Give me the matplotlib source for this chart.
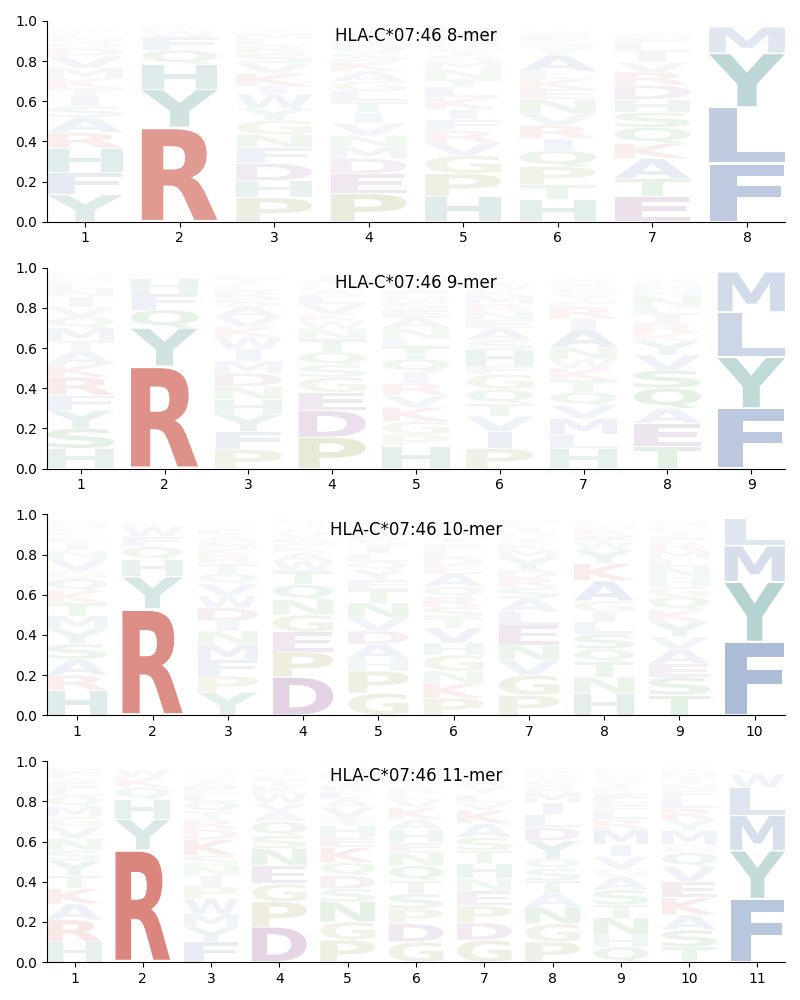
import numpy as np
import matplotlib
matplotlib.use('Agg')
import matplotlib.pyplot as plt
from matplotlib.textpath import TextPath
from matplotlib.patches import PathPatch
from matplotlib.font_manager import FontProperties
from matplotlib.transforms import Affine2D

ALLELE = "HLA-C*07:46"
LENGTHS = [8, 9, 10, 11]

# letters per position, bottom to top, with their heights (frequency)
LETTERS_8 = ["YFHRASITKMVDQNLW", "RYHQFWKS", "PHDFNGYWIKVSRLMT", "PEDMNVITLGAKSQRWF",
             "HPGVRFIKLTNMSYEQAD", "HTPQIRVNEKLAYSFW", "ETAKQSHDRVILFM", "FLYMW"]
HEIGHTS_8 = [
    [.135, .11, .12, .08, .075, .055, .05, .04, .05, .05, .06, .04, .03, .025, .02, .02],
    [.47, .19, .125, .07, .065, .03, .02, .01],
    [.12, .085, .085, .08, .065, .07, .06, .07, .04, .065, .05, .05, .04, .03, .03, .02],
    [.14, .1, .075, .06, .055, .06, .055, .055, .05, .05, .05, .05, .04, .04, .03, .02, .02],
    [.125, .115, .09, .065, .06, .055, .05, .06, .05, .04, .05, .04, .03, .03, .02, .03, .03, .03],
    [.11, .075, .09, .08, .06, .065, .06, .07, .05, .05, .04, .08, .04, .03, .03, .02],
    [.125, .09, .1, .075, .08, .075, .065, .07, .065, .05, .05, .04, .03, .02],
    [.29, .28, .27, .13, .01],
]

LETTERS_9 = ["HSYFRKATMQVINLED", "RYQFHWK", "PFYHNDMIWKVASRLTE", "PDEGSQTNWKVLAMRI",
             "HPGKVRIQTLNAESMFYDW", "PIVTQGFHSAENRMKWL", "HLMVQTKWNAIRFYSEDG",
             "TEAQSVYKRILNHMFG", "FYLM"]
HEIGHTS_9 = [
    [.1, .1, .09, .075, .09, .065, .065, .05, .065, .055, .05, .05, .04, .03, .02, .02],
    [.51, .19, .09, .08, .075, .015, .01],
    [.095, .09, .085, .075, .065, .065, .06, .06, .06, .05, .05, .05, .04, .04, .03, .03, .02],
    [.155, .135, .09, .075, .06, .065, .065, .05, .04, .035, .05, .04, .03, .02, .02, .03],
    [.11, .06, .065, .07, .06, .06, .055, .065, .065, .035, .055, .05, .04, .04, .03, .03, .02, .03, .02],
    [.1, .085, .075, .065, .07, .075, .04, .08, .05, .06, .04, .04, .04, .04, .03, .03, .02],
    [.1, .07, .08, .065, .065, .06, .06, .045, .06, .09, .05, .06, .03, .03, .03, .02, .02, .02],
    [.11, .115, .075, .1, .09, .075, .07, .04, .05, .04, .04, .05, .03, .03, .02, .02],
    [.3, .255, .225, .2],
]

LETTERS_10 = ["HRASYMTKQGVNILEFDW", "RYHQFWK", "YPFMNIDWVQTRKEALSG", "DPEGNQTWAKSVLIR",
              "GPHADVNTEYQLISRKMF", "PKNGHVTSRQAEDLFIMWY", "PGVNELASRDYMKTQIFH",
              "HNTQSLIGAKYWERMF", "TSEAVYKQGHNLMRFIDPW", "FYML"]
HEIGHTS_10 = [
    [.125, .075, .08, .075, .075, .065, .065, .06, .06, .04, .06, .04, .04, .03, .02, .02, .02, .02],
    [.53, .16, .085, .065, .05, .05, .02],
    [.115, .08, .08, .08, .065, .05, .065, .06, .06, .05, .05, .04, .04, .03, .03, .03, .02, .02],
    [.19, .125, .1, .085, .075, .075, .07, .05, .04, .035, .035, .03, .02, .02, .02],
    [.11, .11, .06, .075, .065, .065, .075, .065, .05, .05, .04, .04, .04, .03, .03, .02, .02, .02],
    [.085, .075, .06, .08, .06, .075, .05, .055, .05, .05, .065, .04, .04, .04, .03, .03, .02, .02, .02],
    [.1, .1, .075, .075, .1, .065, .065, .055, .05, .04, .06, .04, .03, .03, .02, .03, .02, .02],
    [.11, .08, .075, .065, .075, .06, .05, .055, .1, .085, .07, .04, .03, .03, .02, .02],
    [.1, .09, .065, .075, .06, .075, .06, .065, .05, .05, .05, .04, .04, .04, .03, .02, .02, .02, .02],
    [.365, .3, .18, .135],
]

LETTERS_11 = ["HRAKTYSNVGMQLEWFD", "RYHQKW", "FYMWPINSKDRTQLEAVGH", "DPGENSQAVWKTLIR",
              "PGNSDQKEHTVALRIMFY", "GDPSTQNEHAKVLRIMFYW", "GDPENHTSAKVLYRIMF",
              "PGNATSQYDLIMRWEKF", "QHNTSAGVIMRLEFKYWDP", "TSAKEVQGMYRLFNIHDP", "FYMLWV"]
HEIGHTS_11 = [
    [.1, .11, .08, .075, .065, .075, .05, .06, .06, .05, .05, .05, .04, .03, .02, .03, .02],
    [.56, .15, .1, .06, .05, .04],
    [.1, .075, .065, .075, .065, .05, .05, .05, .08, .05, .05, .04, .05, .04, .03, .03, .02, .02, .02],
    [.175, .125, .09, .09, .085, .065, .07, .05, .04, .05, .035, .03, .02, .02, .02],
    [.11, .09, .1, .065, .065, .065, .075, .05, .06, .04, .05, .04, .04, .03, .03, .02, .02, .02],
    [.1, .09, .075, .075, .065, .075, .065, .05, .065, .05, .06, .04, .03, .03, .02, .02, .02, .02, .02],
    [.11, .085, .085, .075, .06, .075, .065, .065, .07, .065, .04, .04, .04, .03, .02, .02, .02],
    [.1, .09, .085, .065, .065, .06, .05, .09, .065, .065, .06, .05, .03, .03, .02, .02, .02],
    [.075, .06, .085, .065, .075, .065, .04, .06, .06, .075, .05, .05, .04, .04, .03, .03, .02, .02, .02],
    [.075, .085, .075, .085, .08, .075, .07, .04, .07, .05, .06, .05, .04, .03, .03, .02, .02, .02],
    [.315, .24, .175, .14, .065, .02],
]

# residue colour groups
COLORS = {}
for aa in "AVILMFWC":
    COLORS[aa] = (30, 75, 150)
for aa in "RK":
    COLORS[aa] = (190, 40, 25)
for aa in "HY":
    COLORS[aa] = (10, 110, 100)
for aa in "PG":
    COLORS[aa] = (120, 115, 10)
for aa in "DE":
    COLORS[aa] = (110, 20, 110)
for aa in "NQST":
    COLORS[aa] = (0, 125, 0)

FONT = FontProperties(family='DejaVu Sans', weight='bold')
WIDTH = 0.8
VPAD = 0.04
E_WIDTH = TextPath((0, 0), 'E', size=1, prop=FONT).get_extents().width


def draw_letter(ax, ch, x, y0, h):
    path = TextPath((0, 0), ch, size=1, prop=FONT)
    ext = path.get_extents()
    sx = WIDTH / max(ext.width, E_WIDTH)
    sy = h * (1 - VPAD) / ext.height
    tr = Affine2D().translate(-ext.x0, -ext.y0).scale(sx, sy) \
        .translate(x - ext.width * sx / 2, y0 + VPAD * h / 2)
    r, g, b = COLORS[ch]
    ax.add_patch(PathPatch(tr.transform_path(path), facecolor=(r / 255, g / 255, b / 255, min(1, h)),
                           edgecolor='none', lw=0))


data = {8: (LETTERS_8, HEIGHTS_8), 9: (LETTERS_9, HEIGHTS_9),
        10: (LETTERS_10, HEIGHTS_10), 11: (LETTERS_11, HEIGHTS_11)}

fig, axes = plt.subplots(4, 1, figsize=(8, 10))
fig.subplots_adjust(left=0.059, right=0.981, bottom=0.038, top=0.979, hspace=0.229)

for ax, n in zip(axes, LENGTHS):
    letters, heights = data[n]
    for i, (col, hs) in enumerate(zip(letters, heights)):
        y = 0
        for ch, h in zip(col, hs):
            draw_letter(ax, ch, i + 1, y, h)
            y += h
    ax.set_xlim(0.6, n + 0.4)
    ax.set_ylim(0, 1)
    ax.set_xticks(range(1, n + 1))
    ax.set_yticks(np.arange(0, 1.01, 0.2))
    ax.spines['top'].set_visible(False)
    ax.spines['right'].set_visible(False)
    ax.text(0.5, 0.925, f"{ALLELE} {n}-mer", transform=ax.transAxes,
            ha='center', va='center', fontsize=12)

plt.savefig('out.png', dpi=100)
